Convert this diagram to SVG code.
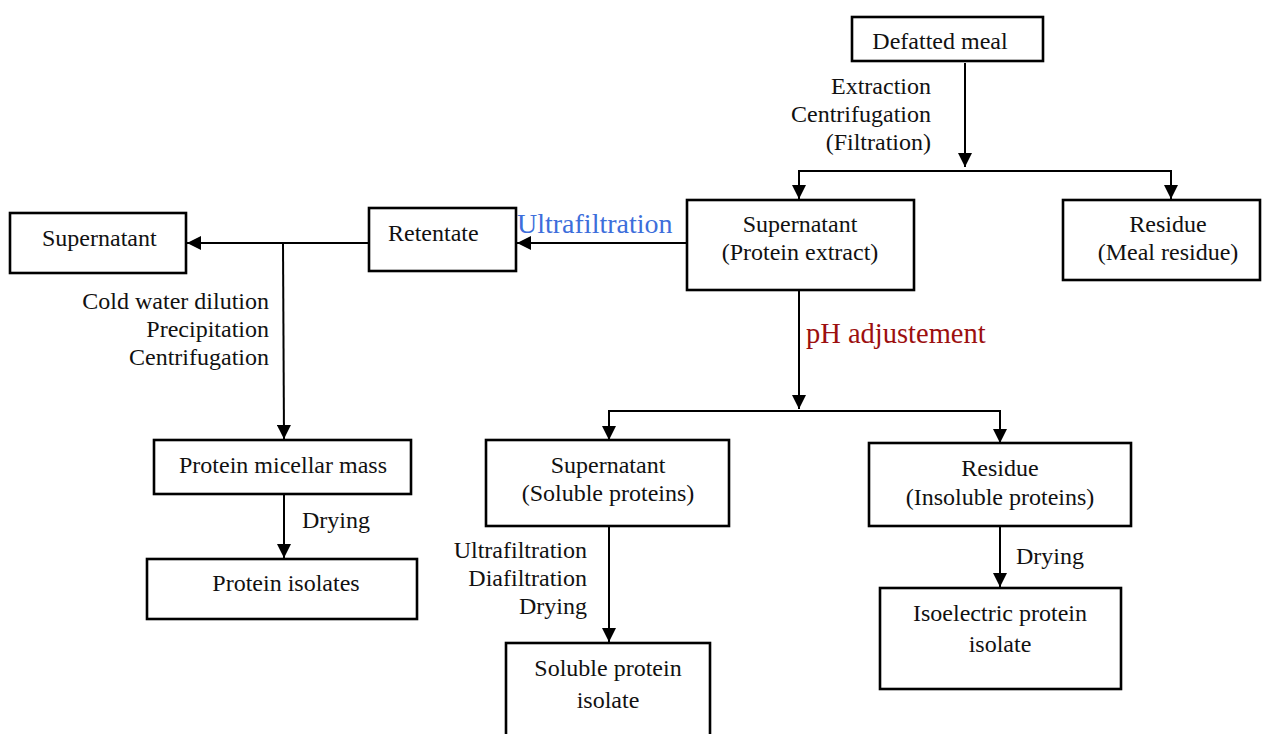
<svg xmlns="http://www.w3.org/2000/svg" width="1262" height="734" viewBox="0 0 1262 734">
<style>
.box{fill:#fff;stroke:#000;stroke-width:2.6}
.t{font-family:"Liberation Serif","Times New Roman",serif;font-size:24px;fill:#111}
.m{text-anchor:middle}
.e{text-anchor:end}
.c{fill:none;stroke:#000;stroke-width:2}
</style>
<defs>
<marker id="ah" markerUnits="userSpaceOnUse" markerWidth="14" markerHeight="14" refX="14" refY="7" orient="auto">
<path d="M0,0 L14,7 L0,14 z" fill="#000"/>
</marker>
</defs>
<rect width="1262" height="734" fill="#fff"/>
<g id="connectors">
<line class="c" x1="965" y1="63" x2="965" y2="167" marker-end="url(#ah)"/>
<polyline class="c" points="799,198 799,171 1171,171 1171,198"/>
<line class="c" x1="799" y1="171" x2="799" y2="199" marker-end="url(#ah)"/>
<line class="c" x1="1171" y1="171" x2="1171" y2="199" marker-end="url(#ah)"/>
<line class="c" x1="687" y1="243" x2="517" y2="243" marker-end="url(#ah)"/>
<line class="c" x1="369" y1="243" x2="187" y2="243" marker-end="url(#ah)"/>
<line class="c" x1="283" y1="243" x2="284" y2="439" marker-end="url(#ah)"/>
<line class="c" x1="284" y1="494" x2="284" y2="558" marker-end="url(#ah)"/>
<line class="c" x1="799" y1="290" x2="799" y2="409" marker-end="url(#ah)"/>
<polyline class="c" points="609,440 609,411 1000,411 1000,442"/>
<line class="c" x1="609" y1="411" x2="609" y2="440" marker-end="url(#ah)"/>
<line class="c" x1="1000" y1="411" x2="1000" y2="443" marker-end="url(#ah)"/>
<line class="c" x1="609" y1="526" x2="609" y2="642" marker-end="url(#ah)"/>
<line class="c" x1="1000" y1="526" x2="1000" y2="587" marker-end="url(#ah)"/>
</g>
<g id="labels">
<text class="t e" x="931" y="94">Extraction</text>
<text class="t e" x="931" y="122">Centrifugation</text>
<text class="t e" x="931" y="150">(Filtration)</text>
<text class="t" x="517" y="233" style="font-size:28px;fill:#3d6edb">Ultrafiltration</text>
<text class="t e" x="269" y="309">Cold water dilution</text>
<text class="t e" x="269" y="337">Precipitation</text>
<text class="t e" x="269" y="365">Centrifugation</text>
<text class="t" x="806" y="343" style="font-size:28.5px;fill:#9c0f0f">pH adjustement</text>
<text class="t" x="302" y="528">Drying</text>
<text class="t e" x="587" y="558">Ultrafiltration</text>
<text class="t e" x="587" y="586">Diafiltration</text>
<text class="t e" x="587" y="614">Drying</text>
<text class="t" x="1016" y="564">Drying</text>
</g>
<g id="defatted"><rect class="box" x="852" y="17" width="191" height="44"/><text class="t m" x="940" y="49">Defatted meal</text></g>
<g id="supernatant-extract"><rect class="box" x="687" y="200" width="227" height="90"/><text class="t m" x="800" y="232">Supernatant</text><text class="t m" x="800" y="260">(Protein extract)</text></g>
<g id="residue-meal"><rect class="box" x="1063" y="200" width="197" height="80"/><text class="t m" x="1168" y="232">Residue</text><text class="t m" x="1168" y="260">(Meal residue)</text></g>
<g id="retentate"><rect class="box" x="369" y="208" width="147" height="63"/><text class="t" x="388" y="241">Retentate</text></g>
<g id="supernatant-left"><rect class="box" x="10" y="213" width="176" height="60"/><text class="t" x="42" y="246">Supernatant</text></g>
<g id="micellar"><rect class="box" x="154" y="440" width="257" height="54"/><text class="t m" x="283" y="473">Protein micellar mass</text></g>
<g id="protein-isolates"><rect class="box" x="147" y="559" width="270" height="60"/><text class="t m" x="286" y="591">Protein isolates</text></g>
<g id="supernatant-soluble"><rect class="box" x="486" y="440" width="243" height="86"/><text class="t m" x="608" y="473">Supernatant</text><text class="t m" x="608" y="501">(Soluble proteins)</text></g>
<g id="residue-insoluble"><rect class="box" x="869" y="443" width="262" height="83"/><text class="t m" x="1000" y="476">Residue</text><text class="t m" x="1000" y="505">(Insoluble proteins)</text></g>
<g id="soluble-isolate"><rect class="box" x="506" y="643" width="204" height="100"/><text class="t m" x="608" y="676">Soluble protein</text><text class="t m" x="608" y="708">isolate</text></g>
<g id="isoelectric"><rect class="box" x="880" y="588" width="241" height="101"/><text class="t m" x="1000" y="621">Isoelectric protein</text><text class="t m" x="1000" y="652">isolate</text></g>
</svg>
